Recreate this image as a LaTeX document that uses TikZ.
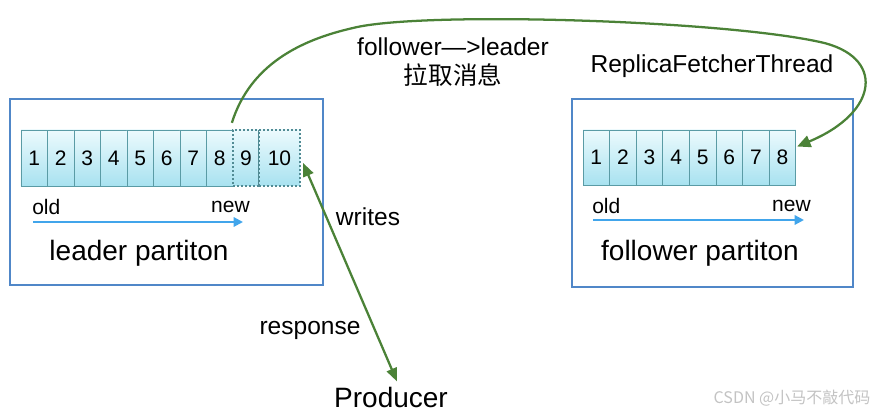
\documentclass[tikz,border=0pt]{standalone}
\usepackage{fontspec}
\setmainfont{Liberation Sans}
\newfontfamily\cjk{Noto Sans CJK SC}
\usetikzlibrary{arrows.meta,calc}
\definecolor{boxblue}{RGB}{80,135,200}
\definecolor{cellline}{RGB}{90,155,165}
\definecolor{celltop}{RGB}{236,250,253}
\definecolor{cellbot}{RGB}{168,226,240}
\definecolor{arrgreen}{RGB}{75,130,55}
\definecolor{arrblue}{RGB}{65,165,235}
\definecolor{wm}{RGB}{195,195,195}
\tikzset{
  partbox/.style={draw=boxblue, line width=0.9pt},
  cell/.style={draw=cellline, line width=0.6pt, top color=celltop, bottom color=cellbot,
    minimum height=42pt, minimum width=19.9pt, inner sep=0pt, font=\fontsize{15.75}{18}\selectfont},
  dcell/.style={cell, dash pattern=on 1.4pt off 1.6pt, line width=1.7pt, draw=cellline!90!black},
  lbl/.style={inner sep=0pt, font=\fontsize{18.4}{21}\selectfont},
  big/.style={inner sep=0pt, font=\fontsize{21}{24}\selectfont},
  small/.style={inner sep=0pt, font=\fontsize{15.75}{18}\selectfont},
  timearrow/.style={draw=arrblue, line width=1.6pt, -{Triangle[length=7pt,width=7pt]}},
  greenarrow/.style={draw=arrgreen, line width=1.7pt},
}
\begin{document}
\begin{tikzpicture}[x=0.75pt,y=-0.75pt]
\useasboundingbox (0,0) rectangle (879,413);
% partition boxes
\node[partbox, minimum width=234.75pt, minimum height=139.5pt, inner sep=0pt] (lbox) at (166.5,192) {};
\node[partbox, minimum width=210.75pt, minimum height=141pt, inner sep=0pt] (fbox) at (712.5,193) {};
% leader cells
\foreach \i in {1,...,8} {
  \node[cell] (l\i) at ({21+26.5*(\i-0.5)},158) {\i};
}
\node[dcell, minimum width=19.5pt] (l9) at (246,158) {9};
\node[dcell, minimum width=30.75pt] (l10) at (279.5,158) {10};
% follower cells
\foreach \i in {1,...,8} {
  \node[cell, minimum height=41.25pt] (f\i) at ({583+26.6*(\i-0.5)},157.5) {\i};
}
% old/new
\node[small, anchor=west] (lold) at (32,207) {old};
\node[small, anchor=east] (lnew) at (250,207) {new};
\coordinate (la1) at (33,222);
\coordinate (la2) at (243,222);
\draw[timearrow] (la1) -- (la2);
\node[big] (ltitle) at (139,253) {leader partiton};
\node[small, anchor=west] (fold) at (592,206) {old};
\node[small, anchor=east] (fnew) at (811,206) {new};
\coordinate (fa1) at (593,220);
\coordinate (fa2) at (804,220);
\draw[timearrow] (fa1) -- (fa2);
\node[big] (ftitle) at (700,253) {follower partiton};
% labels
\node[lbl] (rft) at (712,66) {ReplicaFetcherThread};
\node[lbl] (fl) at (453,47) {follower—>leader};
\node[lbl] (lq) at (453,75) {\cjk 拉取消息};
\node[lbl] (wr) at (368,217) {writes};
\node[lbl] (resp) at (310,330) {response};
\node[big, anchor=base] (prod) at (391,408) {Producer};
% fetch arrow
\draw[greenarrow, -{Triangle[length=10pt,width=9pt]}] ($(l9.north west)+(0,-6)$)
  .. controls (250,65) and (300,40) .. (353,28)
  .. controls (420,11) and (720,20) .. (820,42)
  .. controls (885,56) and (880,112) .. ($(f8.east)+(1,-11)$);
% writes/response arrow
\draw[greenarrow, {Triangle[length=10pt,width=8pt]}-{Triangle[length=10pt,width=8pt]}]
  ($(l10.east)+(2,5)$) -- ($(prod.north)+(6,-6)$);
% watermark
\node[inner sep=0pt, text=wm, font=\cjk\fontsize{12}{14}\selectfont] (wmk) at (792,398) {CSDN @小马不敲代码};
\end{tikzpicture}
\end{document}
